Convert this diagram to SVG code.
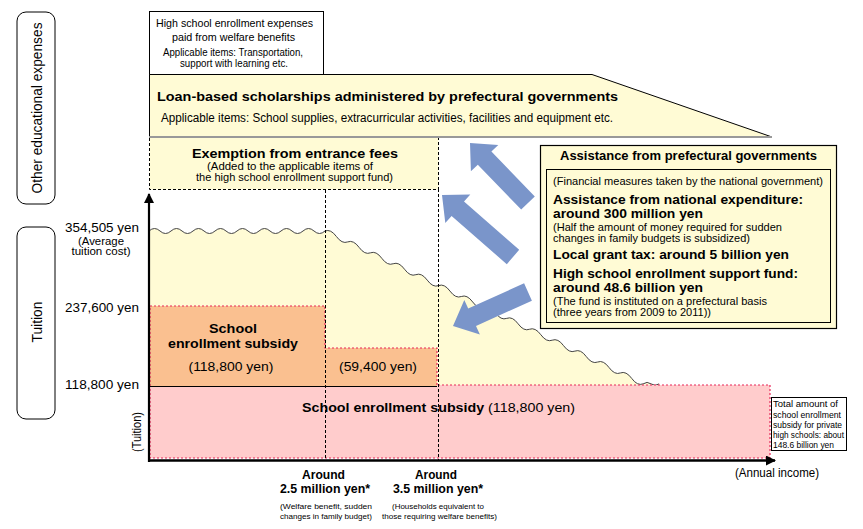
<svg xmlns="http://www.w3.org/2000/svg" width="863" height="529" viewBox="0 0 863 529">
<style>
text{font-family:"Liberation Sans",Arial,sans-serif;fill:#000}
.b{font-weight:bold}
.s9{font-size:9px}
.s10{font-size:10px}
.s11{font-size:11px}
.s12{font-size:12px}
.s13{font-size:13px}
.s14{font-size:14px}
.s8{font-size:8px}
.yel{fill:#FFFBD5}
.dash{fill:none;stroke:#000;stroke-width:1;stroke-dasharray:3,2}
.reddot{fill:none;stroke:#E8285A;stroke-width:1.2;stroke-dasharray:2,2}
.arrow{fill:#7A95CA}
</style>
<defs>
<marker id="ah" viewBox="0 0 10 10" refX="9" refY="5" markerWidth="10" markerHeight="10" markerUnits="userSpaceOnUse" orient="auto">
<path d="M0,0 L10,5 L0,10 Z" fill="#000"/>
</marker>
</defs>
<rect width="863" height="529" fill="#fff"/>

<!-- left category labels -->
<g id="label-other">
<rect x="17" y="12" width="38" height="192" rx="9" fill="#fff" stroke="#000" stroke-width="1"/>
<text class="s14" transform="translate(42,108) rotate(-90)" text-anchor="middle" textLength="171" lengthAdjust="spacingAndGlyphs">Other educational expenses</text>
</g>
<g id="label-tuition">
<rect x="17" y="227" width="38" height="192" rx="9" fill="#fff" stroke="#000" stroke-width="1"/>
<text class="s14" transform="translate(42,322) rotate(-90)" text-anchor="middle" textLength="41" lengthAdjust="spacingAndGlyphs">Tuition</text>
</g>

<!-- top box -->
<g id="welfare-box">
<rect x="149.5" y="11.5" width="174" height="63" fill="#fff" stroke="#000"/>
<text class="s11" x="156" y="27" textLength="157" lengthAdjust="spacingAndGlyphs">High school enrollment expenses</text>
<text class="s11" x="172" y="41" textLength="123" lengthAdjust="spacingAndGlyphs">paid from welfare benefits</text>
<text class="s10" x="163" y="56" textLength="140" lengthAdjust="spacingAndGlyphs">Applicable items: Transportation,</text>
<text class="s10" x="180" y="67" textLength="108" lengthAdjust="spacingAndGlyphs">support with learning etc.</text>
</g>

<!-- loan pentagon -->
<g id="loan-box">
<polygon points="149.5,74.5 592,74.5 772,137 149.5,137" class="yel" stroke="#000" stroke-width="1"/>
<line x1="149" y1="137" x2="772" y2="137" stroke="#999" stroke-width="2"/>
<text class="s13 b" x="157" y="101" textLength="461" lengthAdjust="spacingAndGlyphs">Loan-based scholarships administered by prefectural governments</text>
<text class="s12" x="161" y="122" textLength="452" lengthAdjust="spacingAndGlyphs">Applicable items: School supplies, extracurricular activities, facilities and equipment etc.</text>
</g>

<!-- exemption box -->
<g id="exemption-box">
<rect x="149.5" y="138" width="289" height="51.5" class="yel"/>
<path d="M149.5,138 V189.5 H438.5 V138" class="dash"/>
<text class="s13 b" x="192" y="158" textLength="206" lengthAdjust="spacingAndGlyphs">Exemption from entrance fees</text>
<text class="s11" x="207" y="170" textLength="166" lengthAdjust="spacingAndGlyphs">(Added to the applicable items of</text>
<text class="s11" x="196" y="181" textLength="197" lengthAdjust="spacingAndGlyphs">the high school enrollment support fund)</text>
</g>

<!-- tuition area -->
<g id="tuition-area">
<path d="M149,231 q5.5,-5 11,0 q5.5,5 11,0 q5.5,-5 11,0 q5.5,5 11,0 q5.5,-5 11,0 q5.5,5 11,0 q5.5,-5 11,0 q5.5,5 11,0 q5.5,-5 11,0 q5.5,5 11,0 q5.5,-5 11,0 q5.5,5 11,0 q5.5,-5 11,0 q5.5,5 11,0 q5.5,-5 11,0 q5.5,5 11,0 q5.68,-2.27 11.36,5.46 q5.68,7.73 11.36,5.46 q5.68,-2.27 11.36,5.46 q5.68,7.73 11.36,5.46 q5.68,-2.27 11.36,5.46 q5.68,7.73 11.36,5.46 q5.68,-2.27 11.36,5.46 q5.68,7.73 11.36,5.46 q5.68,-2.27 11.36,5.46 q5.68,7.73 11.36,5.46 q5.68,-2.27 11.36,5.46 q5.68,7.73 11.36,5.46 q5.68,-2.27 11.36,5.46 q5.68,7.73 11.36,5.46 q5.68,-2.27 11.36,5.46 q5.68,7.73 11.36,5.46 q5.68,-2.27 11.36,5.46 q5.68,7.73 11.36,5.46 q5.68,-2.27 11.36,5.46 q5.68,7.73 11.36,5.46 q5.68,-2.27 11.36,5.46 q5.68,7.73 11.36,5.46 q5.68,-2.27 11.36,5.46 q5.68,7.73 11.36,5.46 q5.68,-2.27 11.36,5.46 q5.68,7.73 11.36,5.46 q5.68,-2.27 11.36,5.46 q5.68,7.73 11.36,5.46 q4,-3 8,0 q4,3 8,0 L659,386 L149,386 Z" class="yel"/>
<path d="M149,231 q5.5,-5 11,0 q5.5,5 11,0 q5.5,-5 11,0 q5.5,5 11,0 q5.5,-5 11,0 q5.5,5 11,0 q5.5,-5 11,0 q5.5,5 11,0 q5.5,-5 11,0 q5.5,5 11,0 q5.5,-5 11,0 q5.5,5 11,0 q5.5,-5 11,0 q5.5,5 11,0 q5.5,-5 11,0 q5.5,5 11,0 q5.68,-2.27 11.36,5.46 q5.68,7.73 11.36,5.46 q5.68,-2.27 11.36,5.46 q5.68,7.73 11.36,5.46 q5.68,-2.27 11.36,5.46 q5.68,7.73 11.36,5.46 q5.68,-2.27 11.36,5.46 q5.68,7.73 11.36,5.46 q5.68,-2.27 11.36,5.46 q5.68,7.73 11.36,5.46 q5.68,-2.27 11.36,5.46 q5.68,7.73 11.36,5.46 q5.68,-2.27 11.36,5.46 q5.68,7.73 11.36,5.46 q5.68,-2.27 11.36,5.46 q5.68,7.73 11.36,5.46 q5.68,-2.27 11.36,5.46 q5.68,7.73 11.36,5.46 q5.68,-2.27 11.36,5.46 q5.68,7.73 11.36,5.46 q5.68,-2.27 11.36,5.46 q5.68,7.73 11.36,5.46 q5.68,-2.27 11.36,5.46 q5.68,7.73 11.36,5.46 q5.68,-2.27 11.36,5.46 q5.68,7.73 11.36,5.46 q5.68,-2.27 11.36,5.46 q5.68,7.73 11.36,5.46 q4,-3 8,0 q4,3 8,0" fill="none" stroke="#444" stroke-width="1"/>
</g>

<!-- pink base subsidy -->
<g id="base-subsidy">
<rect x="150" y="385" width="620" height="73" fill="#FFCCCC"/>
<rect x="150" y="385" width="620" height="73" class="reddot"/>
<text x="302" y="412" textLength="273" lengthAdjust="spacingAndGlyphs"><tspan class="s13 b">School enrollment subsidy</tspan><tspan class="s13"> (118,800 yen)</tspan></text>
</g>

<!-- orange additional subsidies -->
<g id="extra-subsidy-1">
<rect x="150" y="306" width="175" height="80" fill="#FAC090"/>
<text class="s13 b" x="233" y="333" text-anchor="middle" textLength="48" lengthAdjust="spacingAndGlyphs">School</text>
<text class="s13 b" x="233" y="348" text-anchor="middle" textLength="130" lengthAdjust="spacingAndGlyphs">enrollment subsidy</text>
<text class="s13" x="231" y="371" text-anchor="middle" textLength="85" lengthAdjust="spacingAndGlyphs">(118,800 yen)</text>
</g>
<g id="extra-subsidy-2">
<rect x="325" y="348" width="112" height="38" fill="#FAC090"/>
<text class="s13" x="378" y="371" text-anchor="middle" textLength="78" lengthAdjust="spacingAndGlyphs">(59,400 yen)</text>
</g>
<path d="M150,386 V306 H325 V348 H437 V386" class="reddot"/>
<line x1="150" y1="386.5" x2="437" y2="386.5" stroke="#000" stroke-width="1"/>

<!-- dashed income thresholds -->
<g id="thresholds">
<line x1="325.5" y1="190" x2="325.5" y2="460" class="dash"/>
<line x1="438.5" y1="189" x2="438.5" y2="460" class="dash"/>
</g>

<!-- axes -->
<g id="axes">
<line x1="149" y1="462" x2="149" y2="194" stroke="#000" stroke-width="2.2" marker-end="url(#ah)"/>
<line x1="148" y1="460.5" x2="775" y2="460.5" stroke="#000" stroke-width="2.5" marker-end="url(#ah)"/>
</g>

<!-- y-axis labels -->
<g id="y-labels">
<text class="s13" x="139" y="232" text-anchor="end" textLength="74" lengthAdjust="spacingAndGlyphs">354,505 yen</text>
<text class="s11" x="101" y="244.5" text-anchor="middle" textLength="46" lengthAdjust="spacingAndGlyphs">(Average</text>
<text class="s11" x="101" y="255" text-anchor="middle" textLength="59" lengthAdjust="spacingAndGlyphs">tuition cost)</text>
<text class="s13" x="139" y="312" text-anchor="end" textLength="74" lengthAdjust="spacingAndGlyphs">237,600 yen</text>
<text class="s13" x="139" y="389" text-anchor="end" textLength="74" lengthAdjust="spacingAndGlyphs">118,800 yen</text>
<text class="s12" transform="translate(141,432) rotate(-90)" text-anchor="middle" textLength="40" lengthAdjust="spacingAndGlyphs">(Tuition)</text>
</g>

<!-- x-axis labels -->
<g id="x-labels">
<text class="s12 b" x="323.5" y="479" text-anchor="middle" textLength="43" lengthAdjust="spacingAndGlyphs">Around</text>
<text class="s12 b" x="325" y="493" text-anchor="middle" textLength="90" lengthAdjust="spacingAndGlyphs">2.5 million yen*</text>
<text class="s8" x="326" y="509" text-anchor="middle" textLength="92" lengthAdjust="spacingAndGlyphs">(Welfare benefit, sudden</text>
<text class="s8" x="326" y="519" text-anchor="middle" textLength="92" lengthAdjust="spacingAndGlyphs">changes in family budget)</text>
<text class="s12 b" x="436" y="479" text-anchor="middle" textLength="42" lengthAdjust="spacingAndGlyphs">Around</text>
<text class="s12 b" x="438" y="493" text-anchor="middle" textLength="90" lengthAdjust="spacingAndGlyphs">3.5 million yen*</text>
<text class="s8" x="438" y="509" text-anchor="middle" textLength="92" lengthAdjust="spacingAndGlyphs">(Households equivalent to</text>
<text class="s8" x="439.5" y="519" text-anchor="middle" textLength="115" lengthAdjust="spacingAndGlyphs">those requiring welfare benefits)</text>
<text class="s12" x="777" y="477" text-anchor="middle" textLength="84" lengthAdjust="spacingAndGlyphs">(Annual income)</text>
</g>

<!-- total note -->
<g id="total-note">
<rect x="771.5" y="397.5" width="75" height="53" fill="#fff" stroke="#000"/>
<text class="s9" x="773" y="407" textLength="65" lengthAdjust="spacingAndGlyphs">Total amount of</text>
<text class="s9" x="773" y="417.5" textLength="68" lengthAdjust="spacingAndGlyphs">school enrollment</text>
<text class="s9" x="773" y="428" textLength="69" lengthAdjust="spacingAndGlyphs">subsidy for private</text>
<text class="s9" x="773" y="438" textLength="71" lengthAdjust="spacingAndGlyphs">high schools: about</text>
<text class="s9" x="773" y="448" textLength="61" lengthAdjust="spacingAndGlyphs">148.6 billion yen</text>
</g>

<!-- assistance box -->
<g id="assistance-box">
<rect x="540.5" y="145.5" width="296" height="183" class="yel" stroke="#000" stroke-width="1.2"/>
<rect x="546.5" y="169.5" width="284" height="153" class="yel" stroke="#000" stroke-width="1"/>
<text class="s13 b" x="560" y="160" textLength="257" lengthAdjust="spacingAndGlyphs">Assistance from prefectural governments</text>
<text class="s11" x="553" y="185" textLength="270" lengthAdjust="spacingAndGlyphs">(Financial measures taken by the national government)</text>
<text class="s13 b" x="553" y="204" textLength="250" lengthAdjust="spacingAndGlyphs">Assistance from national expenditure:</text>
<text class="s13 b" x="553" y="218" textLength="150" lengthAdjust="spacingAndGlyphs">around 300 million yen</text>
<text class="s11" x="553" y="231" textLength="229" lengthAdjust="spacingAndGlyphs">(Half the amount of money required for sudden</text>
<text class="s11" x="553" y="242" textLength="197" lengthAdjust="spacingAndGlyphs">changes in family budgets is subsidized)</text>
<text class="s13 b" x="553" y="259" textLength="236" lengthAdjust="spacingAndGlyphs">Local grant tax:  around 5 billion yen</text>
<text class="s13 b" x="553" y="278" textLength="245" lengthAdjust="spacingAndGlyphs">High school enrollment support fund:</text>
<text class="s13 b" x="553" y="292" textLength="150" lengthAdjust="spacingAndGlyphs">around 48.6 billion yen</text>
<text class="s11" x="553" y="305" textLength="214" lengthAdjust="spacingAndGlyphs">(The fund is instituted on a prefectural basis</text>
<text class="s11" x="553" y="316" textLength="158" lengthAdjust="spacingAndGlyphs">(three years from 2009 to 2011))</text>
</g>

<!-- connectors: block arrows -->
<g id="connectors">
<polygon class="arrow" points="470,143 498.3,144.9 491.4,151.5 534.8,196.4 521.2,209.6 477.8,164.7 470.9,171.3"/>
<polygon class="arrow" points="442,195 470.3,194.5 464,201.6 519.2,249.8 506.8,264.2 451.6,216 445.3,223.1"/>
<polygon class="arrow" points="453,326 464.3,300 468.2,308.6 524.1,283.3 531.9,300.7 476,326 479.9,334.6"/>
</g>
</svg>
